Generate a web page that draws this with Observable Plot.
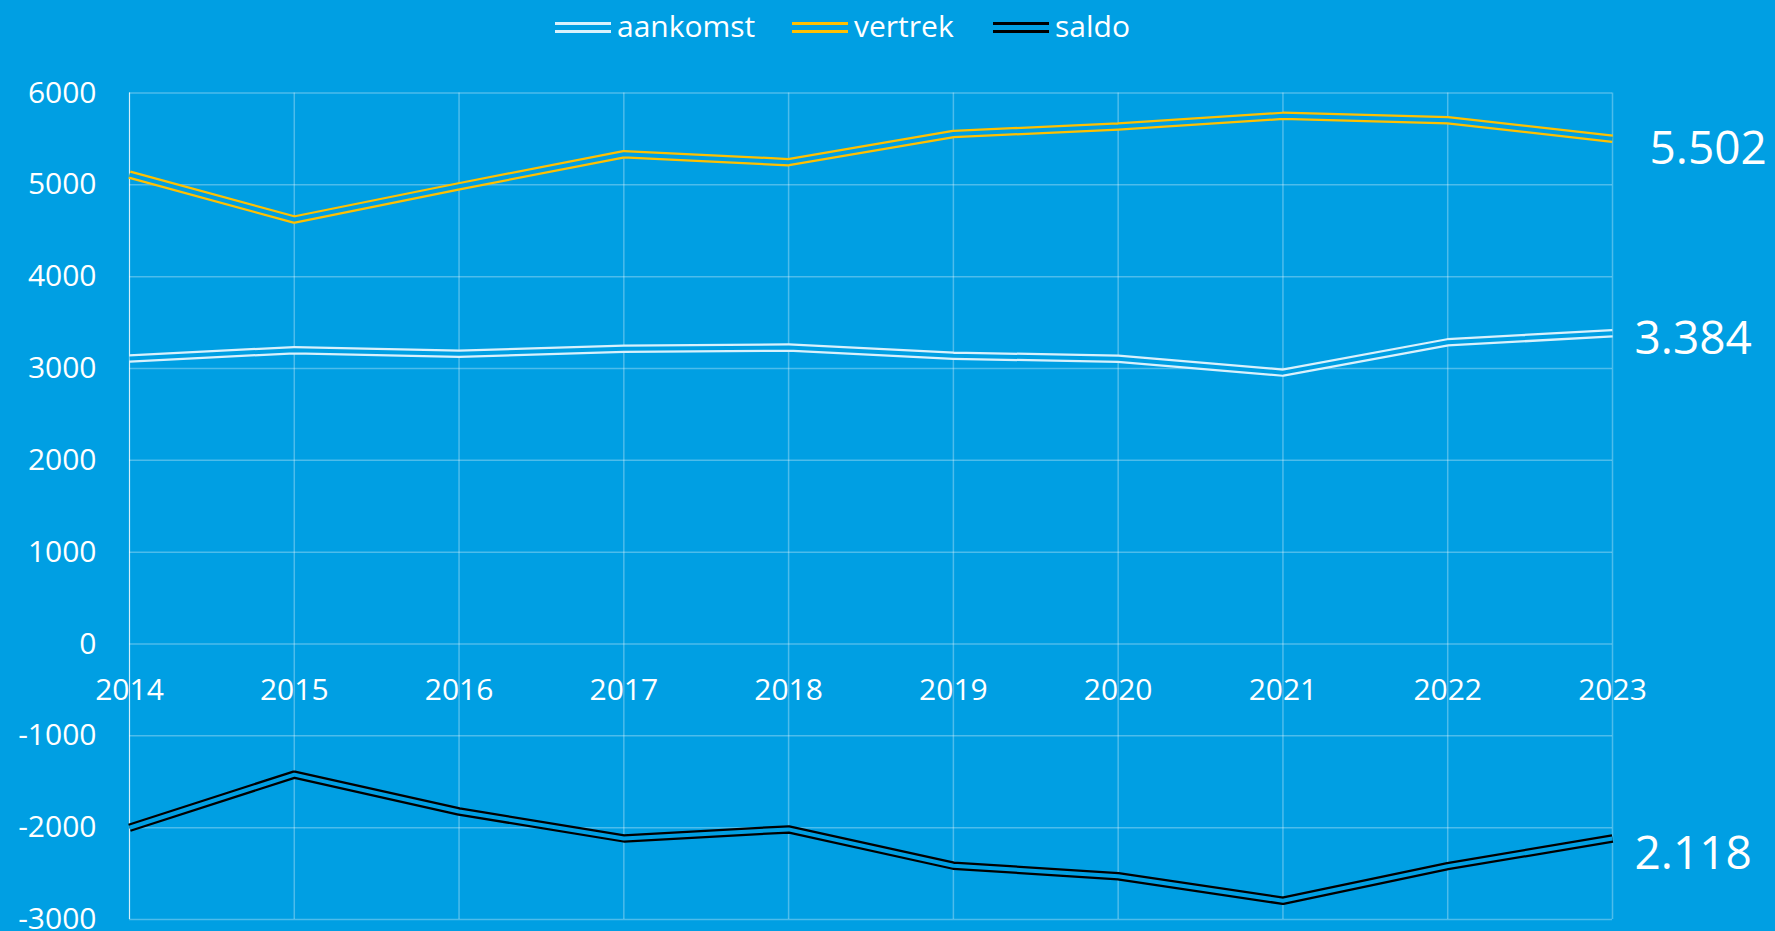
<!DOCTYPE html>
<html>
<head>
<meta charset="utf-8">
<script src="https://cdn.jsdelivr.net/npm/d3@7"></script>
<script src="https://cdn.jsdelivr.net/npm/@observablehq/plot@0.6"></script>
<style>
  html, body { margin: 0; padding: 0; background: #009FE3; width: 1775px; height: 931px; overflow: hidden; }
  #legend { display: block; }
  #chart svg { display: block; }
</style>
</head>
<body>
<svg id="legend" width="1775" height="55"></svg>
<div id="chart"></div>
<script>
const years = [2014, 2015, 2016, 2017, 2018, 2019, 2020, 2021, 2022, 2023];
const aankomst = [3110, 3200, 3160, 3216, 3228, 3140, 3105, 2955, 3285, 3384];
const vertrek = [5111, 4622, 4984, 5333, 5247, 5554, 5634, 5751, 5704, 5502];
const saldo = [-2001, -1422, -1824, -2117, -2019, -2414, -2529, -2796, -2419, -2118];
const seriesNames = ["aankomst", "vertrek", "saldo"];
const yTicks = [-3000, -2000, -1000, 0, 1000, 2000, 3000, 4000, 5000, 6000];

const BG = "#009FE3";
const colors = {aankomst: "#d9f1fc", vertrek: "#FFC000", saldo: "#000000"};
const FONT = "'Open Sans', sans-serif";

const fmtLabel = v => String(Math.abs(v)).replace(/\B(?=(\d{3})+(?!\d))/g, ".");

function rowsOf(values) {
  return years.map((yr, i) => ({year: yr, value: values[i]}));
}
const data = {aankomst: rowsOf(aankomst), vertrek: rowsOf(vertrek), saldo: rowsOf(saldo)};

function doubleLine(name) {
  return [
    Plot.line(data[name], {x: "year", y: "value", stroke: colors[name], strokeWidth: 8.5, strokeLinejoin: "miter", strokeLinecap: "butt"}),
    Plot.line(data[name], {x: "year", y: "value", stroke: BG, strokeWidth: 4, strokeLinejoin: "miter", strokeLinecap: "butt"})
  ];
}

function endLabel(values, dx, dy) {
  const last = values.length - 1;
  return Plot.text([last], {
    x: i => years[i], y: i => values[i], text: i => fmtLabel(values[i]),
    textAnchor: "start", dx, dy, fontSize: 46, fill: "white", fontFamily: FONT
  });
}

const chart = Plot.plot({
  width: 1775,
  height: 876,
  marginLeft: 129,
  marginRight: 163,
  marginTop: 37.5,
  marginBottom: 12,
  style: {background: BG, color: "white", fontFamily: FONT, fontSize: "30px", overflow: "visible"},
  x: {domain: [2014, 2023], axis: null},
  y: {domain: [-3000, 6000], axis: null},
  marks: [
    Plot.ruleY(yTicks, {stroke: "white", strokeOpacity: 0.3, strokeWidth: 1.5}),
    Plot.ruleX(years, {stroke: "white", strokeOpacity: 0.3, strokeWidth: 1.5}),
    Plot.ruleX([years[0]], {stroke: "white", strokeOpacity: 0.75, strokeWidth: 1}),
    Plot.axisY(yTicks, {anchor: "left", tickSize: 0, tickPadding: 33, tickFormat: d => String(d), fontSize: 30, fill: "white", label: null}),
    Plot.text(years, {x: d => d, y: 0, dy: 46, text: d => String(d), fontSize: 30, fill: "white", fontFamily: FONT}),
    ...doubleLine("aankomst"),
    ...doubleLine("vertrek"),
    ...doubleLine("saldo"),
    endLabel(vertrek, 37, 11),
    endLabel(aankomst, 22, 6),
    endLabel(saldo, 22, 16)
  ]
});
document.getElementById("chart").appendChild(chart);

// Legend above the chart
const legend = d3.select("#legend");
const legendX = [555, 792, 993];
seriesNames.forEach((name, i) => {
  const g = legend.append("g").attr("transform", `translate(${legendX[i]},0)`);
  g.append("rect").attr("x", 0).attr("y", 22).attr("width", 56).attr("height", 3).attr("fill", colors[name]);
  g.append("rect").attr("x", 0).attr("y", 30).attr("width", 56).attr("height", 3).attr("fill", colors[name]);
  g.append("text").attr("x", 62).attr("y", 37)
    .attr("fill", "white").attr("font-family", FONT).attr("font-size", 30)
    .text(name);
});
</script>
</body>
</html>
